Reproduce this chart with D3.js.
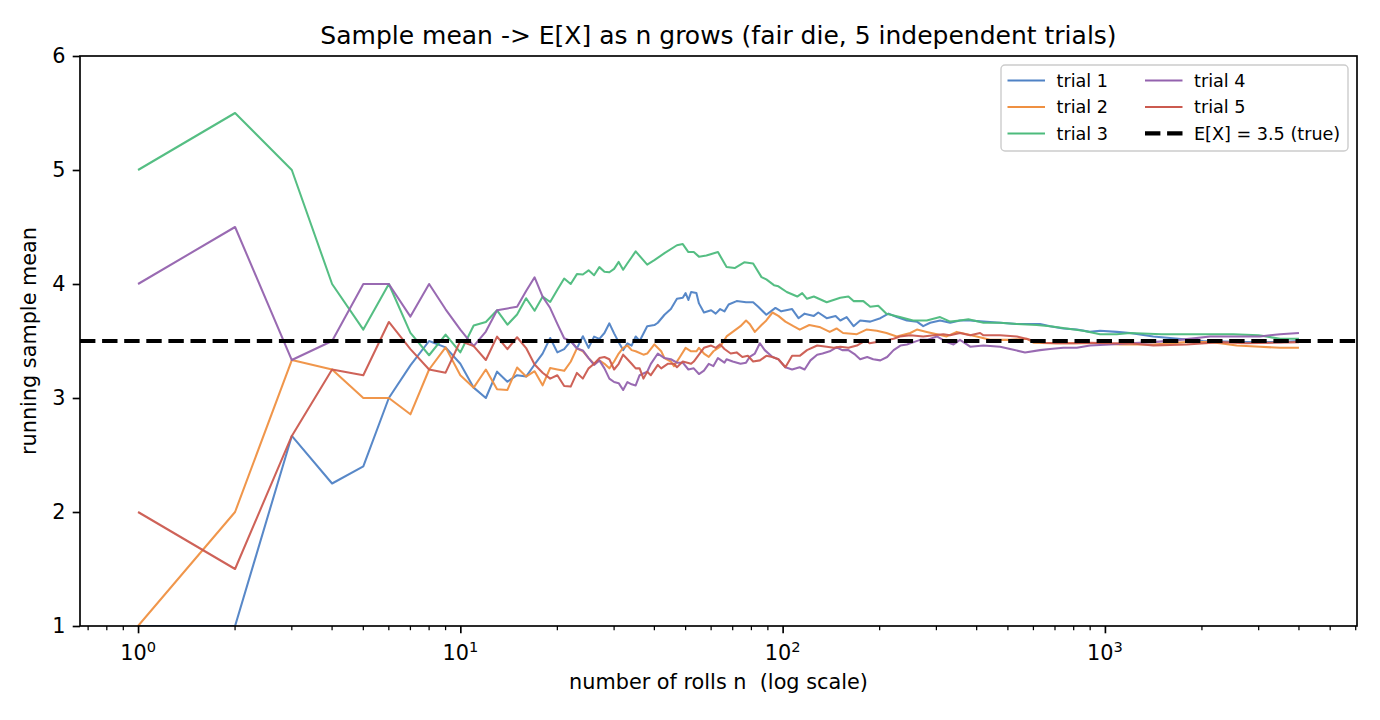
<!DOCTYPE html>
<html>
<head>
<meta charset="utf-8">
<script src="https://cdn.jsdelivr.net/npm/d3@7"></script>
<style>
  html, body { margin: 0; padding: 0; background: #fff; }
  svg { display: block; font-family: "DejaVu Sans", sans-serif; }
</style>
</head>
<body>
<svg id="chart" width="1380" height="720"></svg>
<script>
// ---- data (running sample mean at roll n) ----
const seriesNames = ["trial 1", "trial 2", "trial 3", "trial 4", "trial 5"];
const trueMean = 3.5;
const trueLabel = "E[X] = 3.5 (true)";
const yTicks = [1, 2, 3, 4, 5, 6];
const xMajorTicks = [1, 10, 100, 1000];
const xTickExponents = ["0", "1", "2", "3"];

const trial1 = [[1,1],[2,1],[3,2.667],[4,2.25],[5,2.4],[6,3.0],[7,3.286],[8,3.5],[9,3.444],[10,3.3],[11,3.091],[12,3.0],[13,3.231],[14,3.143],[15,3.2],[16,3.188],[17,3.294],[18,3.389],[19,3.526],[20,3.4],[21,3.429],[22,3.5],[23,3.435],[24,3.542],[25,3.44],[26,3.538],[27,3.519],[28,3.57],[29,3.655],[30,3.567],[31,3.49],[32,3.42],[33,3.48],[34,3.46],[35,3.54],[36,3.50],[38,3.63],[40,3.64],[41,3.66],[43,3.73],[45,3.78],[47,3.87],[49,3.88],[50,3.92],[51,3.86],[52,3.93],[54,3.92],[55,3.83],[57,3.75],[60,3.77],[62,3.74],[64,3.78],[66,3.76],[68,3.82],[72,3.85],[77,3.84],[81,3.84],[84,3.80],[89,3.73],[95,3.79],[99,3.76],[107,3.78],[112,3.70],[117,3.74],[125,3.72],[129,3.75],[137,3.70],[146,3.72],[151,3.68],[158,3.71],[166,3.63],[174,3.68],[187,3.67],[201,3.70],[213,3.74],[226,3.71],[243,3.68],[261,3.67],[273,3.63],[287,3.66],[308,3.68],[331,3.66],[355,3.68],[382,3.68],[420,3.67],[473,3.66],[533,3.65],[629,3.65],[676,3.63],[743,3.61],[818,3.60],[899,3.58],[966,3.59],[1088,3.58],[1196,3.57],[1413,3.54],[2019,3.50],[2754,3.49],[3500,3.49],[4000,3.50]];

const trial2 = [[1,1],[2,2],[3,3.333],[4,3.25],[5,3.0],[6,3.0],[7,2.857],[8,3.25],[9,3.444],[10,3.2],[11,3.091],[12,3.25],[13,3.077],[14,3.071],[15,3.267],[16,3.188],[17,3.235],[18,3.111],[19,3.263],[20,3.25],[21,3.238],[22,3.318],[23,3.435],[24,3.41],[25,3.35],[26,3.30],[27,3.33],[28,3.30],[29,3.26],[30,3.32],[31,3.39],[32,3.44],[33,3.46],[34,3.42],[35,3.41],[37,3.38],[38,3.39],[40,3.47],[42,3.41],[43,3.35],[45,3.32],[46,3.28],[48,3.36],[50,3.44],[52,3.41],[54,3.41],[55,3.44],[57,3.39],[59,3.36],[61,3.41],[64,3.45],[67,3.54],[70,3.58],[74,3.63],[77,3.68],[79,3.65],[82,3.58],[86,3.64],[89,3.68],[93,3.75],[97,3.72],[102,3.67],[108,3.63],[113,3.60],[121,3.64],[131,3.62],[140,3.58],[147,3.61],[154,3.57],[170,3.56],[182,3.60],[196,3.59],[210,3.57],[226,3.54],[249,3.57],[261,3.60],[280,3.58],[301,3.56],[323,3.54],[347,3.58],[400,3.54],[440,3.51],[508,3.51],[572,3.52],[600,3.485],[676,3.48],[818,3.48],[966,3.48],[1114,3.47],[1413,3.47],[1794,3.49],[2118,3.49],[2276,3.48],[2564,3.46],[3027,3.45],[3494,3.44],[4000,3.44]];

const trial3 = [[1,5],[2,5.5],[3,5],[4,4],[5,3.6],[6,4],[7,3.571],[8,3.375],[9,3.556],[10,3.4],[11,3.636],[12,3.667],[13,3.769],[14,3.643],[15,3.733],[16,3.875],[17,3.765],[18,3.889],[19,3.842],[20,3.95],[21,4.048],[22,4.0],[23,4.087],[24,4.083],[25,4.12],[26,4.077],[27,4.148],[28,4.107],[29,4.103],[30,4.133],[31,4.194],[32,4.125],[33,4.182],[34,4.235],[35,4.286],[38,4.17],[40,4.21],[43,4.27],[47,4.34],[49,4.35],[51,4.28],[53,4.28],[55,4.24],[58,4.25],[63,4.28],[67,4.15],[71,4.14],[76,4.19],[81,4.18],[86,4.06],[89,4.04],[94,3.99],[97,3.98],[103,3.93],[111,3.89],[115,3.92],[119,3.87],[125,3.89],[137,3.84],[151,3.88],[160,3.89],[166,3.85],[178,3.85],[187,3.80],[198,3.81],[210,3.74],[231,3.71],[254,3.68],[280,3.68],[308,3.71],[331,3.67],[355,3.68],[377,3.69],[420,3.66],[473,3.66],[533,3.65],[614,3.64],[676,3.63],[761,3.61],[857,3.59],[966,3.56],[1088,3.56],[1196,3.57],[1500,3.56],[2000,3.56],[2500,3.56],[3000,3.55],[3500,3.52],[4000,3.52]];

const trial4 = [[1,4],[2,4.5],[3,3.333],[4,3.5],[5,4],[6,4],[7,3.714],[8,4],[9,3.778],[10,3.6],[11,3.455],[12,3.583],[13,3.769],[14,3.786],[15,3.8],[16,3.938],[17,4.059],[18,3.889],[19,3.789],[20,3.65],[21,3.524],[22,3.5],[23,3.435],[24,3.417],[25,3.35],[26,3.29],[27,3.33],[28,3.26],[29,3.17],[30,3.14],[31,3.13],[32,3.07],[33,3.14],[34,3.12],[35,3.11],[36,3.20],[38,3.23],[39,3.30],[41,3.39],[43,3.35],[45,3.34],[47,3.31],[49,3.31],[51,3.25],[53,3.26],[55,3.21],[57,3.24],[59,3.30],[61,3.28],[63,3.35],[66,3.31],[67,3.34],[70,3.32],[74,3.30],[77,3.31],[79,3.36],[82,3.39],[85,3.48],[88,3.42],[93,3.36],[97,3.34],[102,3.27],[107,3.25],[113,3.27],[117,3.25],[122,3.33],[128,3.38],[133,3.39],[140,3.41],[147,3.445],[153,3.42],[160,3.42],[168,3.38],[174,3.34],[183,3.36],[191,3.34],[201,3.33],[211,3.36],[221,3.42],[232,3.46],[243,3.47],[255,3.49],[267,3.51],[281,3.51],[301,3.54],[323,3.49],[339,3.47],[355,3.51],[382,3.45],[420,3.46],[473,3.45],[508,3.43],[565,3.40],[629,3.42],[676,3.43],[743,3.44],[818,3.44],[899,3.46],[1037,3.47],[1196,3.48],[1413,3.49],[1710,3.51],[2118,3.54],[2564,3.54],[3027,3.54],[3494,3.56],[4000,3.57]];

const trial5 = [[1,2],[2,1.5],[3,2.667],[4,3.25],[5,3.2],[6,3.667],[7,3.429],[8,3.25],[9,3.222],[10,3.5],[11,3.455],[12,3.333],[13,3.538],[14,3.429],[15,3.533],[16,3.438],[17,3.294],[18,3.222],[19,3.17],[20,3.2],[21,3.105],[22,3.10],[23,3.22],[24,3.17],[25,3.26],[26,3.30],[27,3.35],[28,3.36],[29,3.34],[30,3.25],[31,3.30],[32,3.38],[33,3.34],[34,3.30],[35,3.26],[36,3.26],[37,3.17],[38,3.23],[39,3.20],[41,3.29],[42,3.26],[44,3.30],[46,3.30],[47,3.27],[49,3.32],[52,3.30],[53,3.32],[55,3.38],[57,3.44],[60,3.46],[62,3.44],[64,3.47],[66,3.43],[69,3.39],[72,3.40],[75,3.36],[78,3.37],[81,3.32],[85,3.33],[89,3.37],[93,3.36],[97,3.34],[102,3.27],[107,3.37],[113,3.37],[119,3.42],[128,3.46],[137,3.45],[144,3.44],[151,3.45],[160,3.44],[170,3.46],[182,3.51],[186,3.48],[205,3.50],[221,3.52],[231,3.54],[249,3.55],[273,3.54],[294,3.55],[315,3.56],[331,3.55],[355,3.57],[382,3.55],[410,3.57],[420,3.55],[473,3.55],[533,3.54],[586,3.51],[644,3.485],[709,3.48],[798,3.48],[899,3.485],[1037,3.48],[1196,3.48],[1413,3.46],[1794,3.47],[2276,3.49],[2754,3.48],[4000,3.49]];

const trials = [trial1, trial2, trial3, trial4, trial5];
const colors = ["#4f82c5", "#ef9041", "#4cbb7c", "#9362ae", "#cb5a4f"];

// ---- layout ----
const svg = d3.select("#chart");
const M = { left: 80, right: 1357, top: 56, bottom: 626 };
const nMax = 4000;
const lmin = 0, lmax = Math.log10(nMax), pad = 0.05 * (lmax - lmin);
const x = d3.scaleLog().domain([Math.pow(10, lmin - pad), Math.pow(10, lmax + pad)]).range([M.left, M.right]);
const y = d3.scaleLinear().domain([1, 6]).range([M.bottom, M.top]);

svg.append("defs").append("clipPath").attr("id", "clip")
  .append("rect").attr("x", M.left).attr("y", M.top)
  .attr("width", M.right - M.left).attr("height", M.bottom - M.top);

const plot = svg.append("g").attr("clip-path", "url(#clip)");
const line = d3.line().x(d => x(d[0])).y(d => y(d[1]));

trials.forEach((t, i) => {
  plot.append("path").datum(t)
    .attr("d", line)
    .attr("fill", "none")
    .attr("stroke", colors[i])
    .attr("stroke-opacity", 0.95)
    .attr("stroke-width", 2.05)
    .attr("stroke-linejoin", "round");
});

plot.append("line")
  .attr("x1", M.left).attr("x2", M.right)
  .attr("y1", y(trueMean)).attr("y2", y(trueMean))
  .attr("stroke", "#000").attr("stroke-width", 4.2)
  .attr("stroke-dasharray", "15.4,6.7");

// ---- axes ----
const xAxis = d3.axisBottom(x).tickValues(xMajorTicks).tickSize(7.3).tickPadding(7).tickFormat("");
const gx = svg.append("g").attr("transform", `translate(0,${M.bottom})`).call(xAxis);
gx.select(".domain").remove();
gx.selectAll(".tick line").attr("stroke", "#000").attr("stroke-width", 1.67);

// minor ticks
const [d0, d1] = x.domain();
const minor = [];
for (let e = -1; e <= 4; e++) for (let k = 2; k <= 9; k++) {
  const v = k * Math.pow(10, e);
  if (v >= d0 && v <= d1) minor.push(v);
}
svg.append("g").selectAll("line").data(minor).join("line")
  .attr("x1", d => x(d)).attr("x2", d => x(d))
  .attr("y1", M.bottom).attr("y2", M.bottom + 4.2)
  .attr("stroke", "#000").attr("stroke-width", 1.25);

// x tick labels (10^k)
const xl = svg.append("g").selectAll("text").data(xMajorTicks).join("text")
  .attr("x", d => x(d)).attr("y", 660)
  .attr("text-anchor", "middle")
  .attr("font-size", 20.8)
  .attr("fill", "#000");
xl.append("tspan").text("10");
xl.append("tspan").attr("dy", -8).attr("font-size", 14.6).text((d, i) => xTickExponents[i]);

const yAxis = d3.axisLeft(y).tickValues(yTicks).tickSize(7.3).tickPadding(7.3).tickFormat(d3.format("d"));
const gy = svg.append("g").attr("transform", `translate(${M.left},0)`).call(yAxis);
gy.select(".domain").remove();
gy.selectAll(".tick line").attr("stroke", "#000").attr("stroke-width", 1.67);
gy.selectAll(".tick text").attr("font-size", 20.8).attr("font-family", "DejaVu Sans").attr("fill", "#000");

// frame
svg.append("rect").attr("x", M.left).attr("y", M.top)
  .attr("width", M.right - M.left).attr("height", M.bottom - M.top)
  .attr("fill", "none").attr("stroke", "#000").attr("stroke-width", 1.67);

// labels
svg.append("text").attr("x", (M.left + M.right) / 2).attr("y", 43.5)
  .attr("text-anchor", "middle").attr("font-size", 25)
  .text("Sample mean -> E[X] as n grows (fair die, 5 independent trials)");
svg.append("text").attr("x", (M.left + M.right) / 2).attr("y", 689)
  .attr("text-anchor", "middle").attr("font-size", 20.8)
  .style("white-space", "pre")
  .text("number of rolls n  (log scale)");
svg.append("text").attr("transform", `translate(36,${(M.top + M.bottom) / 2}) rotate(-90)`)
  .attr("text-anchor", "middle").attr("font-size", 20.8)
  .text("running sample mean");

// legend
const lg = svg.append("g");
lg.append("rect").attr("x", 1001).attr("y", 65).attr("width", 347).attr("height", 86)
  .attr("rx", 4).attr("fill", "#fff").attr("fill-opacity", 0.8)
  .attr("stroke", "#cccccc").attr("stroke-width", 1.4);
const entries = seriesNames.map((n, i) => ({ label: n, color: colors[i], dashed: false }))
  .concat([{ label: trueLabel, color: "#000", dashed: true }]);
const rowY = [80.5, 107, 133.4];
entries.forEach((e, i) => {
  const col = i < 3 ? 0 : 1;
  const row = i % 3;
  const hx = col === 0 ? 1007.5 : 1145;
  const tx = col === 0 ? 1056.5 : 1194;
  lg.append("line").attr("x1", hx).attr("x2", hx + 37.5)
    .attr("y1", rowY[row]).attr("y2", rowY[row])
    .attr("stroke", e.color)
    .attr("stroke-width", e.dashed ? 4.2 : 2.05)
    .attr("stroke-dasharray", e.dashed ? "15.4,6.7" : null);
  lg.append("text").attr("x", tx).attr("y", rowY[row]).attr("dy", "0.35em")
    .attr("font-size", 17.6).text(e.label);
});
</script>
</body>
</html>
